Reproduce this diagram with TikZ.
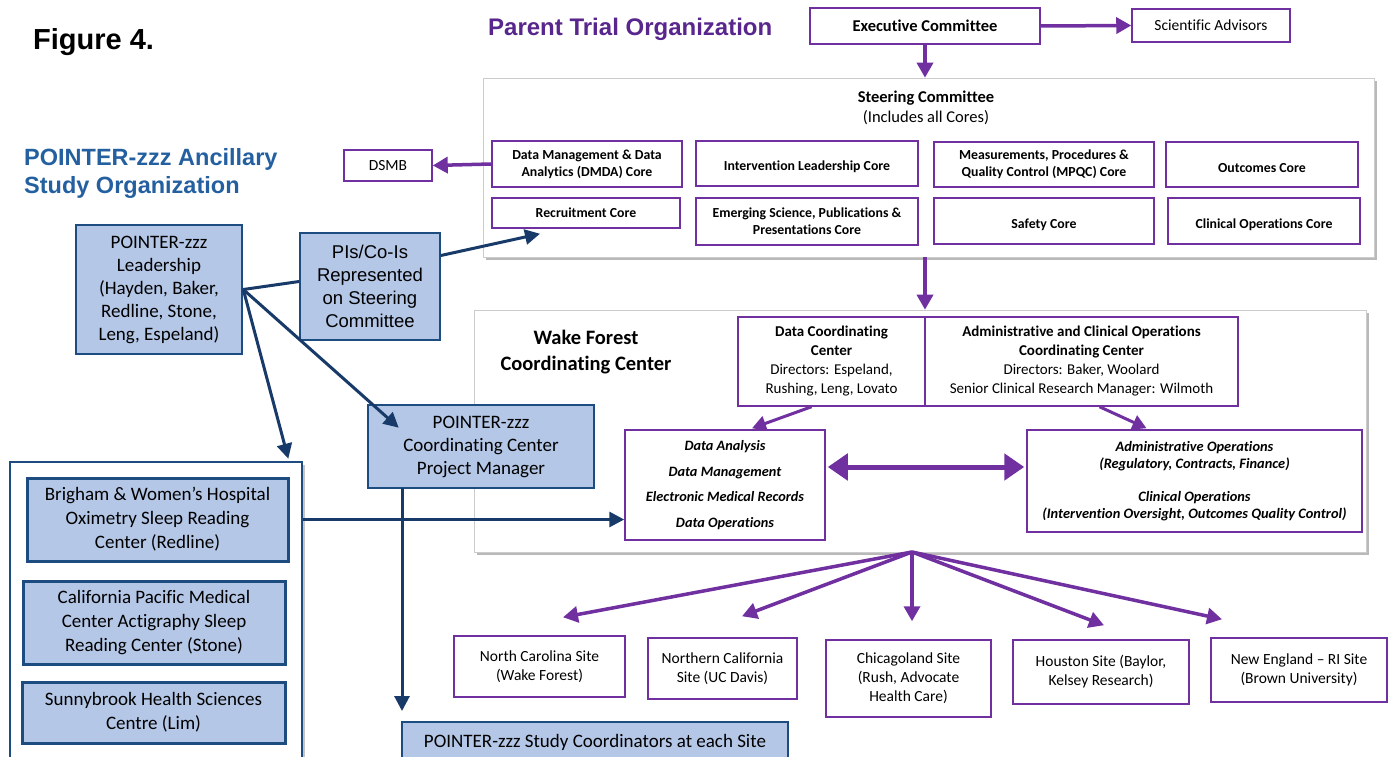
\documentclass[tikz,border=0pt]{standalone}
\usepackage{fontspec}
\setmainfont{Carlito}[Ligatures=NoCommon]
\newfontfamily\arialf{Liberation Sans}
\usetikzlibrary{arrows.meta,shadows,calc}
\definecolor{ppl}{RGB}{112,48,160}
\definecolor{pplt}{RGB}{88,38,140}
\definecolor{navy}{RGB}{24,58,104}
\definecolor{bord}{RGB}{28,76,128}
\definecolor{bfill}{RGB}{180,199,231}
\definecolor{tblue}{RGB}{36,96,160}
\newcommand{\fsz}[2]{\fontsize{#1}{#2}\selectfont}
\begin{document}
\begin{tikzpicture}[x=1pt,y=-1pt,
  pbox/.style={draw=ppl, line width=1.5pt, fill=white, inner sep=0pt, align=center, text=black},
  bbox/.style={draw=bord, line width=2.6pt, fill=bfill, inner sep=0pt, align=center, text=black},
  bigbox/.style={draw=black!20, line width=0.6pt, fill=white, inner sep=0pt,
     drop shadow={shadow xshift=3pt, shadow yshift=-3pt, fill=black!50, opacity=.55}},
  parrow/.style={draw=ppl, line width=3.5pt, -{Triangle[length=15pt,width=16pt]}},
  barrow/.style={draw=navy, line width=3pt, -{Triangle[length=15pt,width=15pt]}},
  bline/.style={draw=navy, line width=3pt},
  coretxt/.style={font=\fsz{13.8}{17}\bfseries},
  sitetxt/.style={font=\fsz{15.5}{19}},
  lbltxt/.style={inner sep=0pt, align=center},
]
\fill[white] (0,0) rectangle (1393,757);
\useasboundingbox (0,0) rectangle (1393,757);

% ---------- titles ----------
\node[lbltxt, anchor=west, font=\arialf\fsz{29}{32}\bfseries] (fig) at (33,42) {Figure 4.};
\node[lbltxt, anchor=west, text=pplt, font=\arialf\fsz{24}{28}\bfseries] (ptitle) at (488,29) {Parent Trial Organization};
\node[lbltxt, anchor=west, align=left, text=tblue, font=\arialf\fsz{23.5}{28}\bfseries] (atitle) at (24,173) {POINTER-zzz Ancillary\\Study Organization};

% ---------- big white containers ----------
\node[bigbox, minimum width=891, minimum height=179] (steer) at (928.5,167.5) {};
\node[bigbox, minimum width=892, minimum height=242] (wake) at (920,431) {};
\node[draw=bord, line width=2.6pt, fill=white, inner sep=0pt, minimum width=292, minimum height=313,
     drop shadow={shadow xshift=3pt, shadow yshift=-3pt, fill=black!50, opacity=.45}] (group) at (156,618.5) {};

% ---------- parent trial ----------
\node[pbox, minimum width=230, minimum height=36, font=\fsz{16.5}{19}\bfseries] (exec) at (925,26) {Executive Committee};
\node[pbox, minimum width=158, minimum height=33, font=\fsz{15.5}{19}] (sci) at (1211,25.5) {Scientific Advisors};
\node[lbltxt, font=\fsz{16.5}{19.5}] (steertxt) at (926,108) {\textbf{Steering Committee}\\(Includes all Cores)};

\node[pbox, coretxt, minimum width=190, minimum height=46] (dmda) at (587,164) {Data Management \& Data\\Analytics (DMDA) Core};
\node[pbox, coretxt, minimum width=222, minimum height=45] (intv) at (807,163.5) {\mbox{}\\Intervention Leadership Core};
\node[pbox, coretxt, minimum width=220, minimum height=45] (mpqc) at (1044,164.5) {Measurements, Procedures \&\\Quality Control (MPQC) Core};
\node[pbox, coretxt, minimum width=192, minimum height=45] (outc) at (1262,164.5) {\mbox{}\\Outcomes Core};
\node[pbox, coretxt, minimum width=188, minimum height=30] (recr) at (586,213) {Recruitment Core};
\node[pbox, coretxt, minimum width=222, minimum height=47] (emer) at (807,221.5) {Emerging Science, Publications \&\\Presentations Core};
\node[pbox, coretxt, minimum width=220, minimum height=46] (safe) at (1044,221) {\mbox{}\\Safety Core};
\node[pbox, coretxt, minimum width=192, minimum height=46] (clin) at (1264,221) {\mbox{}\\Clinical Operations Core};
\node[pbox, minimum width=88, minimum height=31, font=\fsz{15.5}{19}] (dsmb) at (388,165.5) {DSMB};

% ---------- Wake Forest coordinating center ----------
\node[lbltxt, font=\fsz{20.5}{26}\bfseries] (waketxt) at (586,352) {Wake Forest\\Coordinating Center};
\node[pbox, minimum width=187, minimum height=89, font=\fsz{15}{19}] (dcc) at (831.5,361.5)
  {\textbf{Data Coordinating}\\\textbf{Center}\\Directors: Espeland,\\Rushing, Leng, Lovato};
\node[pbox, minimum width=313, minimum height=89, font=\fsz{15}{19}] (acc) at (1081.5,361.5)
  {\textbf{Administrative and Clinical Operations}\\\textbf{Coordinating Center}\\Directors: Baker, Woolard\\Senior Clinical Research Manager: Wilmoth};
\node[pbox, minimum width=200, minimum height=110, font=\fsz{14.3}{25.5}\bfseries\itshape] (dana) at (725,485)
  {Data Analysis\\Data Management\\Electronic Medical Records\\Data Operations};
\node[pbox, minimum width=335, minimum height=102, font=\fsz{14.4}{17}\bfseries\itshape] (aops) at (1194.5,481)
  {Administrative Operations\\(Regulatory, Contracts, Finance)\\[16pt]Clinical Operations\\(Intervention Oversight, Outcomes Quality Control)};

% ---------- sites ----------
\node[pbox, sitetxt, minimum width=171, minimum height=61] (nc) at (539.5,666.5) {North Carolina Site\\(Wake Forest)};
\node[pbox, sitetxt, minimum width=149, minimum height=61] (ncal) at (722.5,668.5) {Northern California\\Site (UC Davis)};
\node[pbox, sitetxt, minimum width=165, minimum height=77] (chi) at (908.5,678.5) {Chicagoland Site\\(Rush, Advocate\\Health Care)};
\node[pbox, sitetxt, minimum width=176, minimum height=64] (hou) at (1101,672) {Houston Site (Baylor,\\Kelsey Research)};
\node[pbox, sitetxt, minimum width=176, minimum height=64] (ne) at (1299,670) {New England -- RI Site\\(Brown University)};

% ---------- ancillary (blue) ----------
\node[bbox, minimum width=166, minimum height=129, font=\fsz{19}{23}] (lead) at (159,289.5)
  {POINTER-zzz\\Leadership\\(Hayden, Baker,\\Redline, Stone,\\Leng, Espeland)};
\node[bbox, line width=1.8pt, minimum width=140, minimum height=107, font=\arialf\fsz{18.5}{23}] (pis) at (370,286.5)
  {PIs/Co-Is\\Represented\\on Steering\\Committee};
\node[bbox, minimum width=226, minimum height=83, font=\fsz{19}{23}] (pm) at (481,446.5)
  {POINTER-zzz\\Coordinating Center\\Project Manager};
\node[bbox, minimum width=386, minimum height=40, font=\fsz{19}{23}] (coord) at (595,742)
  {POINTER-zzz Study Coordinators at each Site};
\node[bbox, line width=3pt, minimum width=261, minimum height=83, font=\fsz{19}{24}] (brig) at (157.5,519.5)
  {Brigham \& Women's Hospital\\Oximetry Sleep Reading\\Center (Redline)};
\node[bbox, line width=3pt, minimum width=262, minimum height=83, font=\fsz{19}{24}] (cpmc) at (154,622.5)
  {California Pacific Medical\\Center Actigraphy Sleep\\Reading Center (Stone)};
\node[bbox, line width=3pt, minimum width=263, minimum height=61, font=\fsz{19}{24}] (sunny) at (153.5,712.5)
  {Sunnybrook Health Sciences\\Centre (Lim)};

% ---------- purple connectors ----------
\draw[parrow] (exec.east) -- (sci.west);
\draw[parrow] (exec.south) -- (exec.south |- steer.north);
\draw[parrow] (dmda.west) -- (dsmb.east);
\draw[parrow] (exec.south |- steer.south) -- (exec.south |- wake.north);
\draw[draw=ppl, line width=3pt, -{Triangle[length=14pt,width=15pt]}] ($(dcc.south)+(-20,0)$) -- ($(dana.north)+(27,-1)$);
\draw[draw=ppl, line width=3pt, -{Triangle[length=14pt,width=15pt]}] ($(acc.south)+(18,0)$) -- ($(aops.north)+(-48,-1)$);
\draw[draw=ppl, line width=5pt, {Triangle[length=20pt,width=26pt]}-{Triangle[length=20pt,width=26pt]}]
  ($(dana.east)+(2,-18)$) -- ($(aops.west)+(-2,-14)$);
\coordinate (hub) at (912,552);
\draw[parrow] (hub) -- ($(nc.north)+(23.5,-18)$);
\draw[parrow] (hub) -- ($(ncal.north)+(19.5,-21)$);
\draw[parrow] (hub) -- ($(chi.north)+(3.5,-18)$);
\draw[parrow] (hub) -- ($(hou.north)+(3,-14)$);
\draw[parrow] (hub) -- ($(ne.north)+(-77,-18)$);

% ---------- blue connectors ----------
\draw[bline] (lead.east) -- ($(pis.west)+(0,-5)$);
\draw[barrow] ($(pis.east)+(0,-31)$) -- ($(recr.south)+(-46,5)$);
\draw[barrow] (lead.east) -- ($(pm.north west)+(32,24)$);
\draw[barrow] (lead.east) -- ($(group.north east)+(-15,-2)$);
\draw[barrow] (402,488) -- (402,711);
\draw[barrow] (brig.east -| group.east) -- (dana.west |- brig.east);
\end{tikzpicture}
\end{document}
